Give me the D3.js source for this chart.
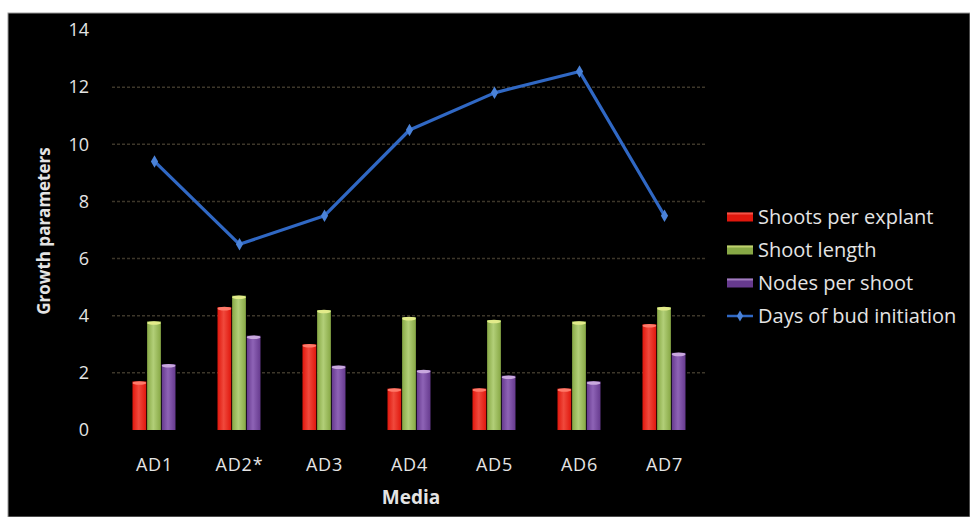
<!DOCTYPE html>
<html>
<head>
<meta charset="utf-8">
<script src="https://cdn.jsdelivr.net/npm/d3@7"></script>
<style>
  body { margin: 0; background: #fff; }
  svg text { font-family: "Open Sans", Lato, sans-serif; fill: #e4e4e4; }
</style>
</head>
<body>
<svg id="chart" width="970" height="517"></svg>
<script>
const media = ["AD1", "AD2*", "AD3", "AD4", "AD5", "AD6", "AD7"];
const shootsPerExplant = [1.7, 4.3, 3.0, 1.45, 1.45, 1.45, 3.7];
const shootLength = [3.8, 4.7, 4.2, 3.95, 3.85, 3.8, 4.3];
const nodesPerShoot = [2.3, 3.3, 2.25, 2.1, 1.9, 1.7, 2.7];
const daysOfBudInitiation = [9.4, 6.5, 7.5, 10.5, 11.8, 12.55, 7.5];
const yTicks = [0, 2, 4, 6, 8, 10, 12, 14];

const barSeries = [
  { name: "Shoots per explant", values: shootsPerExplant, color: "#e0170d", light: "#f0493c", cap: "#ff7a6a" },
  { name: "Shoot length", values: shootLength, color: "#87a845", light: "#b2cf78", cap: "#e2eb8a" },
  { name: "Nodes per shoot", values: nodesPerShoot, color: "#663a8e", light: "#8e63b6", cap: "#c9a8de" }
];
const lineColor = "#3068c4";

const svg = d3.select("#chart");
const plotLeft = 112, plotRight = 707, plotTop = 30, plotBottom = 430;

// black panel
svg.append("rect").attr("x", 8).attr("y", 13).attr("width", 962).attr("height", 504)
  .attr("fill", "#000").attr("stroke", "#999").attr("stroke-width", 1);

const x = d3.scaleBand().domain(media).range([plotLeft, plotRight]);
const y = d3.scaleLinear().domain([0, 14]).range([plotBottom, plotTop]);
const xSub = d3.scaleBand().domain(barSeries.map(s => s.name))
  .range([x.bandwidth() / 2 - 22, x.bandwidth() / 2 + 21]).paddingInner(0.06);

// gradients for the cylinder look
const defs = svg.append("defs");
barSeries.forEach((s, i) => {
  const g = defs.append("linearGradient").attr("id", "grad" + i)
    .attr("x1", "0%").attr("x2", "100%").attr("y1", "0%").attr("y2", "0%");
  g.append("stop").attr("offset", "0%").attr("stop-color", s.color);
  g.append("stop").attr("offset", "45%").attr("stop-color", s.light);
  g.append("stop").attr("offset", "100%").attr("stop-color", s.color);
});

// gridlines
svg.append("g").selectAll("line")
  .data(yTicks.filter(t => t > 0 && t < 14))
  .join("line")
  .attr("x1", plotLeft).attr("x2", plotRight - 2)
  .attr("y1", d => y(d)).attr("y2", d => y(d))
  .attr("stroke", "#3d372a").attr("stroke-width", 1.5)
  .attr("stroke-dasharray", "3,2");

// y tick labels
svg.append("g").selectAll("text")
  .data(yTicks)
  .join("text")
  .attr("x", 89).attr("y", d => y(d))
  .attr("dy", "0.35em")
  .attr("text-anchor", "end")
  .attr("font-size", 18)
  .text(d => d);

// bars
barSeries.forEach((s, i) => {
  const g = svg.append("g");
  g.selectAll("rect.bar")
    .data(s.values)
    .join("rect")
    .attr("class", "bar")
    .attr("x", (d, j) => x(media[j]) + xSub(s.name))
    .attr("width", xSub.bandwidth())
    .attr("y", d => y(d))
    .attr("height", d => y(0) - y(d))
    .attr("fill", `url(#grad${i})`);
  g.selectAll("ellipse")
    .data(s.values)
    .join("ellipse")
    .attr("cx", (d, j) => x(media[j]) + xSub(s.name) + xSub.bandwidth() / 2)
    .attr("cy", d => y(d) + 1.5)
    .attr("rx", xSub.bandwidth() / 2)
    .attr("ry", 1.8)
    .attr("fill", s.cap);
});

// line
const line = d3.line().x((d, j) => x(media[j]) + x.bandwidth() / 2).y(d => y(d));
svg.append("path").datum(daysOfBudInitiation)
  .attr("d", line).attr("fill", "none")
  .attr("stroke", lineColor).attr("stroke-width", 3.2)
  .attr("stroke-linejoin", "round");
svg.append("g").selectAll("path")
  .data(daysOfBudInitiation)
  .join("path")
  .attr("d", d3.symbol(d3.symbolDiamond, 45))
  .attr("transform", (d, j) => `translate(${x(media[j]) + x.bandwidth() / 2},${y(d)})`)
  .attr("fill", "#4a82d8");

// x labels
svg.append("g").selectAll("text")
  .data(media)
  .join("text")
  .attr("x", d => x(d) + x.bandwidth() / 2)
  .attr("y", 465)
  .attr("dy", "0.35em")
  .attr("text-anchor", "middle")
  .attr("font-size", 18)
  .attr("letter-spacing", 0.8)
  .text(d => d);

// axis titles
svg.append("text")
  .attr("x", 411).attr("y", 497).attr("dy", "0.35em")
  .attr("text-anchor", "middle")
  .attr("font-size", 19).attr("font-weight", "bold")
  .text("Media");
svg.append("text")
  .attr("transform", "translate(44,231) rotate(-90)")
  .attr("dy", "0.35em")
  .attr("text-anchor", "middle")
  .attr("font-size", 17).attr("font-weight", "bold")
  .text("Growth parameters");

// legend
const legendRow = 33;
const legend = svg.append("g").attr("transform", "translate(727,217)");
barSeries.forEach((s, i) => {
  const row = legend.append("g").attr("transform", `translate(0,${i * legendRow})`);
  row.append("rect").attr("x", 0).attr("y", -4.5).attr("width", 26).attr("height", 9)
    .attr("fill", s.color);
  row.append("rect").attr("x", 0).attr("y", -4.5).attr("width", 26).attr("height", 2)
    .attr("fill", s.cap).attr("opacity", 0.6);
  row.append("text").attr("x", 31).attr("dy", "0.35em").attr("font-size", 20).text(s.name);
});
const lrow = legend.append("g").attr("transform", `translate(0,${3 * legendRow})`);
lrow.append("line").attr("x1", 0).attr("x2", 26).attr("stroke", lineColor).attr("stroke-width", 2.5);
lrow.append("path").attr("d", d3.symbol(d3.symbolDiamond, 35)).attr("transform", "translate(13,0)")
  .attr("fill", "#4a82d8");
lrow.append("text").attr("x", 31).attr("dy", "0.35em").attr("font-size", 20).text("Days of bud initiation");
</script>
</body>
</html>
